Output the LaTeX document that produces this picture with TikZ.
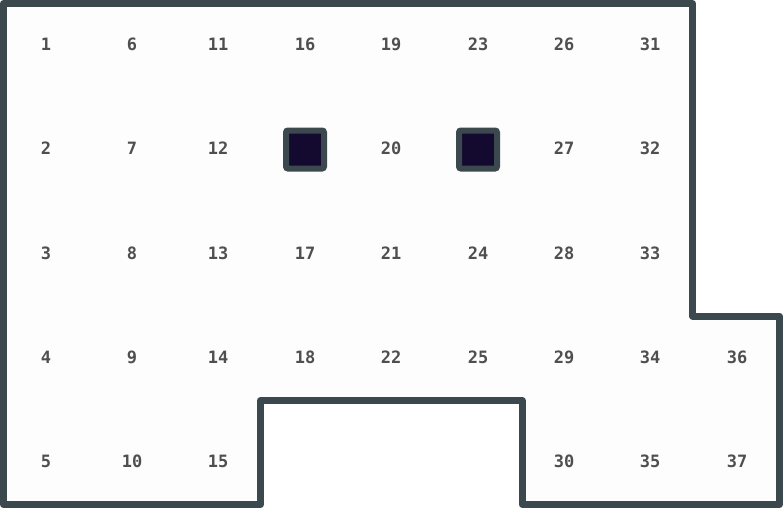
\documentclass[tikz,border=0pt]{standalone}
\usepackage{fontspec}
\setmonofont{DejaVu Sans Mono}
\definecolor{wallcol}{HTML}{3B484D}
\definecolor{blockfill}{HTML}{140A30}
\definecolor{numcol}{HTML}{4F4F4F}
\definecolor{bgcol}{HTML}{FDFDFD}
\tikzset{
  num/.style={font=\ttfamily\bfseries\fontsize{17}{17}\selectfont, text=numcol, inner sep=0pt, anchor=center},
  wall/.style={draw=wallcol, line width=7pt, line join=round},
  block/.style={draw=wallcol, fill=blockfill, line width=6pt, rounded corners=2pt, minimum size=38pt, inner sep=0pt}
}
\begin{document}
\begin{tikzpicture}[x=1pt,y=-1pt]
\useasboundingbox (0,0) rectangle (783,508);
\fill[bgcol] (3.5,3.5) -- (692.5,3.5) -- (692.5,316) -- (779.5,316) -- (779.5,504.5) -- (522,504.5) -- (522,400.5) -- (260.5,400.5) -- (260.5,504.5) -- (3.5,504.5) -- cycle;
\draw[wall] (3.5,3.5) -- (692.5,3.5) -- (692.5,316) -- (779.5,316) -- (779.5,504.5) -- (522,504.5) -- (522,400.5) -- (260.5,400.5) -- (260.5,504.5) -- (3.5,504.5) -- cycle;
% column 0
\node[num] (n1) at (46,44.5) {1};
\node[num] (n2) at (46,148.5) {2};
\node[num] (n3) at (46,253.5) {3};
\node[num] (n4) at (46,357.5) {4};
\node[num] (n5) at (46,461.5) {5};
% column 1
\node[num] (n6) at (132,44.5) {6};
\node[num] (n7) at (132,148.5) {7};
\node[num] (n8) at (132,253.5) {8};
\node[num] (n9) at (132,357.5) {9};
\node[num] (n10) at (132,461.5) {10};
% column 2
\node[num] (n11) at (218,44.5) {11};
\node[num] (n12) at (218,148.5) {12};
\node[num] (n13) at (218,253.5) {13};
\node[num] (n14) at (218,357.5) {14};
\node[num] (n15) at (218,461.5) {15};
% column 3
\node[num] (n16) at (305,44.5) {16};
\node[block] (b1) at (305,149.5) {};
\node[num] (n17) at (305,253.5) {17};
\node[num] (n18) at (305,357.5) {18};
% column 4
\node[num] (n19) at (391,44.5) {19};
\node[num] (n20) at (391,148.5) {20};
\node[num] (n21) at (391,253.5) {21};
\node[num] (n22) at (391,357.5) {22};
% column 5
\node[num] (n23) at (478,44.5) {23};
\node[block] (b2) at (478,149.5) {};
\node[num] (n24) at (478,253.5) {24};
\node[num] (n25) at (478,357.5) {25};
% column 6
\node[num] (n26) at (564,44.5) {26};
\node[num] (n27) at (564,148.5) {27};
\node[num] (n28) at (564,253.5) {28};
\node[num] (n29) at (564,357.5) {29};
\node[num] (n30) at (564,461.5) {30};
% column 7
\node[num] (n31) at (650,44.5) {31};
\node[num] (n32) at (650,148.5) {32};
\node[num] (n33) at (650,253.5) {33};
\node[num] (n34) at (650,357.5) {34};
\node[num] (n35) at (650,461.5) {35};
% column 8
\node[num] (n36) at (737,357.5) {36};
\node[num] (n37) at (737,461.5) {37};
\end{tikzpicture}
\end{document}
